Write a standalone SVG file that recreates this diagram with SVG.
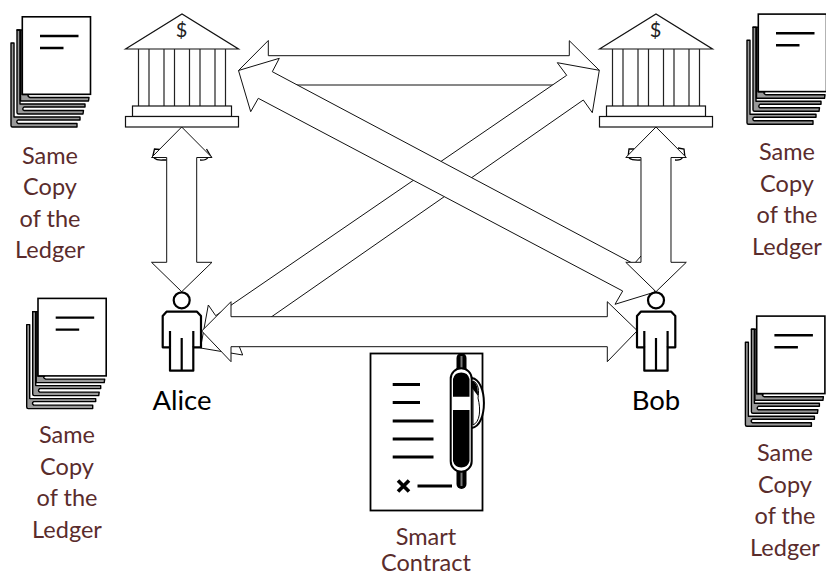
<svg xmlns="http://www.w3.org/2000/svg" xmlns:xlink="http://www.w3.org/1999/xlink" width="826" height="577" viewBox="0 0 826 577">
<style>
text{font-family:"Lato","Open Sans","Liberation Sans",sans-serif;text-anchor:middle}
.lab{font-size:23.5px;fill:#5a2c2c}
.name{font-size:27.5px;fill:#000}
.dollar{font-size:20px;fill:#222}
.arrow{fill:#fff;stroke:#111;stroke-width:1;stroke-linejoin:miter}
.bit{fill:none;stroke:#000;stroke-width:1.300}
.bank{fill:#fff;stroke:#111;stroke-width:1.200}
.col{stroke:#222;stroke-width:1.200}
.sheet{fill:#999;stroke:#000;stroke-width:1.400;stroke-linejoin:round}
.page{fill:#fff;stroke:#000;stroke-width:1.600}
.ink{stroke:#000;fill:none;stroke-width:2.400}
.thick{stroke:#000;fill:none;stroke-width:3}
.man{fill:#fff;stroke:#000;stroke-width:2.200;stroke-linejoin:round}
</style>
<defs>
<g id="ledger">
<path class="sheet" d="M11,43H14V117H80L80,120H18Q15.500,121.500 18,123.500H77L77,127H12.500Q11,127 11,125.500Z"/>
<path class="sheet" d="M17,30H20V104H85L85,107H24Q21.500,109 24,110.500H83.500L83,114H18.500Q17,114 17,112.500Z"/>
<path class="sheet" d="M17,30H20.500V101H88.500L89,97.500H30Q26.500,96 29,94.500H22.300V30Z"/>
<rect class="page" x="22.300" y="16.800" width="68.200" height="77.500"/>
<path class="ink" d="M40,36H78.500M40,48H63.500"/>
</g>
<g id="bankshape">
<path class="bank" d="M125.500,49L182,14L238.500,49Z"/>
<path class="col" d="M138.500,49V106M149,49V106M164,49V106M174.500,49V106M189.500,49V106M200,49V106M215,49V106M225.500,49V106"/>
<rect class="bank" x="132.500" y="106" width="99" height="10.500"/>
<rect class="bank" x="125.500" y="116.500" width="113" height="10.500"/>
<text class="dollar" x="181.500" y="37">$</text>
</g>
<g id="man">
<circle cx="181.700" cy="300.300" r="8" fill="#fff" stroke="#000" stroke-width="2.200"/>
<path class="man" d="M162.700,347.300V316L166.500,311.700H197L201,316V347.300H193.300V370.700H170V347.300Z"/>
<path class="man" fill="none" d="M170,331V347.300M193.300,331V347.300M181.700,338V370.700"/>
</g>
<path id="vert" class="arrow" d="M181.700,127L212,157.500H196.700V262.300H212L181.700,291.700L151.500,262.300H166.700V157.500H151.500Z"/>
</defs>

<g id="connectors">
<path class="arrow" d="M238.500,70.500L268.300,40.500V55.700H569.300V40.700L599.300,70.300L569.300,100V85H268.300V100Z"/>
<path class="arrow" d="M599.300,70.300L592.300,112.700L583.300,100L237,340.800L242.700,355L200.500,348L208.300,305L215.700,315.700L566.700,75.300L557.300,62.700Z"/>
<path class="arrow" d="M238.500,70.500L279.300,58.300L272.300,71.700L634,264L641,256L655,292L615,304.300L622.700,291L258.300,98.300L250.700,111.700Z"/>
<path class="arrow" d="M201.700,331L231,301.700V316.700H607.300V301.700L637.300,330.700L607.300,361.700V346.700H231V361.700Z"/>
<path class="bit" d="M160,149.500L154.500,149L152.500,157.500M154,158Q157,160.500 163,160H166.700M206.500,149L211.500,157.500M200,160Q206,160.500 208,157.500"/>
<path class="bit" d="M634,149L629,149L628,157.500M629,158Q632,160.500 640.700,160M678,148L684,149L685,157.500M675,160Q681,160.500 682.500,157.500"/>
<use xlink:href="#vert" href="#vert"/>
<use xlink:href="#vert" href="#vert" x="474.300"/>
</g>

<g id="ledger-top-left"><use xlink:href="#ledger" href="#ledger"/>
<text class="lab" x="50" y="164">Same</text><text class="lab" x="50" y="195">Copy</text><text class="lab" x="50" y="227">of the</text><text class="lab" x="50" y="258">Ledger</text></g>
<g id="ledger-top-right"><use xlink:href="#ledger" href="#ledger" x="736" y="-2.700"/>
<text class="lab" x="787" y="160">Same</text><text class="lab" x="787" y="192">Copy</text><text class="lab" x="787" y="223">of the</text><text class="lab" x="787" y="255">Ledger</text></g>
<g id="ledger-bottom-left"><use xlink:href="#ledger" href="#ledger" x="15.700" y="281.600"/>
<text class="lab" x="67" y="443">Same</text><text class="lab" x="67" y="475">Copy</text><text class="lab" x="67" y="506">of the</text><text class="lab" x="67" y="538">Ledger</text></g>
<g id="ledger-bottom-right"><use xlink:href="#ledger" href="#ledger" x="734.400" y="299.300"/>
<text class="lab" x="785" y="461">Same</text><text class="lab" x="785" y="493">Copy</text><text class="lab" x="785" y="524">of the</text><text class="lab" x="785" y="556">Ledger</text></g>

<g id="bank-left"><use xlink:href="#bankshape" href="#bankshape"/></g>
<g id="bank-right"><use xlink:href="#bankshape" href="#bankshape" x="474"/></g>

<g id="alice"><use xlink:href="#man" href="#man"/><text class="name" x="182" y="410">Alice</text></g>
<g id="bob"><use xlink:href="#man" href="#man" x="474.300"/><text class="name" x="656" y="410">Bob</text></g>

<g id="smart-contract">
<rect x="370.500" y="353.500" width="112" height="157" fill="#fff" stroke="#000" stroke-width="1.800"/>
<path class="thick" d="M392.700,384.500H420M392.700,402.500H420M392.700,421H433.500M392.700,439H433.500M392.700,457H433.500"/>
<path d="M398,480.500L409,491.500M409,480.500L398,491.500" stroke="#000" stroke-width="3.600" fill="none"/>
<path class="thick" d="M417.500,486H452"/>
<path d="M471.700,378C488,380 488,426 471.700,428" fill="#fff" stroke="#000" stroke-width="2"/>
<path d="M473,381C479,383 479,392 478,398C481,410 480,422 473,425Z" fill="#fff" stroke="#000" stroke-width="1"/>
<path d="M472,381C477,382 478,388 478,396L472,388Z" fill="#000"/>
<rect x="456.500" y="353" width="10" height="136" rx="5" fill="#000"/>
<rect x="460.500" y="356" width="2" height="130" fill="#777"/>
<rect x="450.700" y="368.300" width="21" height="103.400" rx="10.500" fill="#fff" stroke="#000" stroke-width="2"/>
<path d="M453,396.700V379A8.500,8.500 0 0 1 469.500,379V396.700ZM453,410H469.500V461A8.500,8.500 0 0 1 453,461Z" fill="#000"/>
</g>
<text class="lab" x="426" y="545">Smart</text>
<text class="lab" x="426" y="571">Contract</text>
</svg>
